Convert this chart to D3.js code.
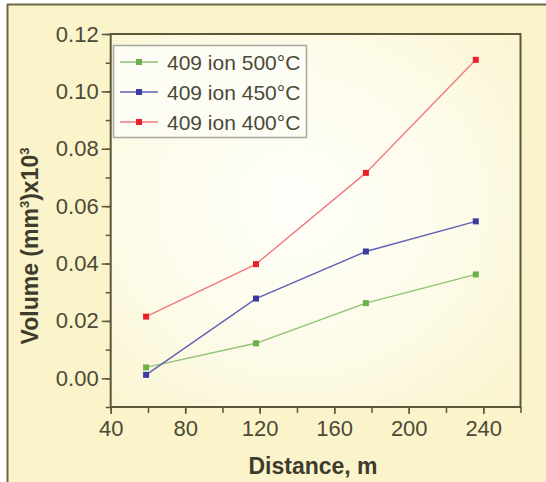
<!DOCTYPE html>
<html><head><meta charset="utf-8">
<script src="https://cdn.jsdelivr.net/npm/d3@7"></script>
<style>
html,body{margin:0;padding:0;background:#fff;}
svg{display:block;}
</style></head>
<body>
<svg id="chart" width="546" height="482"></svg>
<script>
const distances = [59, 118, 177, 236];
const series500 = [0.0038, 0.0122, 0.0262, 0.0362];
const series450 = [0.0012, 0.0278, 0.0442, 0.0547];
const series400 = [0.0215, 0.0398, 0.0716, 0.1110];
const seriesNames = ["409 ion 500°C", "409 ion 450°C", "409 ion 400°C"];
const xTickValues = [40, 80, 120, 160, 200, 240];
const yTickValues = [0.00, 0.02, 0.04, 0.06, 0.08, 0.10, 0.12];

const lineColors = ["#90c276", "#6060b4", "#f27a80"];
const markColors = ["#6cb04c", "#3a3aa0", "#e8202c"];

const svg = d3.select("#chart");
const defs = svg.append("defs");
const rg = defs.append("radialGradient").attr("id","plotbg").attr("cx","45%").attr("cy","45%").attr("r","70%");
rg.append("stop").attr("offset","0%").attr("stop-color","#fffffb");
rg.append("stop").attr("offset","60%").attr("stop-color","#fdfbe8");
rg.append("stop").attr("offset","100%").attr("stop-color","#fbf5d2");

// outer panel
svg.append("rect").attr("x",7).attr("y",4).attr("width",546).attr("height",490).attr("fill","#fbf4cb");
svg.append("line").attr("x1",7).attr("x2",546).attr("y1",4.5).attr("y2",4.5).attr("stroke","#6b6645").attr("stroke-width",2);
svg.append("line").attr("x1",7.5).attr("x2",7.5).attr("y1",4).attr("y2",482).attr("stroke","#6b6645").attr("stroke-width",2);

const L = 110.7, R = 520.5, T = 34, B = 407;
const x = d3.scaleLinear().domain([40, 260]).range([L, R]);
const y = d3.scaleLinear().domain([-0.01, 0.12]).range([B, T]);

svg.append("rect").attr("x",L).attr("y",T).attr("width",R-L).attr("height",B-T).attr("fill","url(#plotbg)");

const axisColor = "#5a5838";
const textColor = "#4b4a36";

// minor ticks
const yAxisMinor = d3.axisLeft(y).tickValues(d3.range(-0.01, 0.1201, 0.01)).tickSize(5).tickFormat("");
svg.append("g").attr("transform",`translate(${L},0)`).call(yAxisMinor)
  .call(g=>{g.select(".domain").remove(); g.selectAll("line").attr("stroke",axisColor).attr("stroke-width",1.5);});
const xAxisMinor = d3.axisBottom(x).tickValues(d3.range(40, 261, 20)).tickSize(6).tickFormat("");
svg.append("g").attr("transform",`translate(0,${B})`).call(xAxisMinor)
  .call(g=>{g.select(".domain").remove(); g.selectAll("line").attr("stroke",axisColor).attr("stroke-width",1.5);});

// major axes
const yAxis = d3.axisLeft(y).tickValues(yTickValues).tickSize(9).tickPadding(3).tickFormat(d3.format(".2f"));
svg.append("g").attr("transform",`translate(${L},0)`).call(yAxis)
  .call(g=>{g.select(".domain").remove();
    g.selectAll("line").attr("stroke",axisColor).attr("stroke-width",1.5);
    g.selectAll("text").attr("fill",textColor).attr("font-family","Liberation Sans, Arial, sans-serif").attr("font-size",22);});
const xAxis = d3.axisBottom(x).tickValues(xTickValues).tickSize(7).tickPadding(6).tickFormat(d3.format("d"));
svg.append("g").attr("transform",`translate(0,${B})`).call(xAxis)
  .call(g=>{g.select(".domain").remove();
    g.selectAll("line").attr("stroke",axisColor).attr("stroke-width",1.5);
    g.selectAll("text").attr("fill",textColor).attr("font-family","Liberation Sans, Arial, sans-serif").attr("font-size",22);});

// plot frame
svg.append("rect").attr("x",L).attr("y",T).attr("width",R-L).attr("height",B-T)
  .attr("fill","none").attr("stroke",axisColor).attr("stroke-width",2);

// series
const allSeries = [series500, series450, series400];
const line = d3.line().x((d,i)=>x(distances[i])).y(d=>y(d));
allSeries.forEach((s,k)=>{
  svg.append("path").datum(s).attr("d",line).attr("fill","none").attr("stroke",lineColors[k]).attr("stroke-width",1.4);
});
allSeries.forEach((s,k)=>{
  svg.append("g").selectAll("rect").data(s).join("rect")
    .attr("x",(d,i)=>x(distances[i])-3).attr("y",d=>y(d)-3).attr("width",6).attr("height",6)
    .attr("fill",markColors[k]);
});

// legend
const lg = svg.append("g");
lg.append("rect").attr("x",113.5).attr("y",45.5).attr("width",193).attr("height",92)
  .attr("fill","#fdfdf6").attr("stroke","#a8a79a").attr("stroke-width",1.5);
seriesNames.forEach((name,k)=>{
  const yy = 62 + k*30;
  lg.append("line").attr("x1",120).attr("x2",158).attr("y1",yy).attr("y2",yy).attr("stroke",lineColors[k]).attr("stroke-width",1.4);
  lg.append("rect").attr("x",139-3).attr("y",yy-3).attr("width",6).attr("height",6).attr("fill",markColors[k]);
  lg.append("text").attr("x",167).attr("y",yy).attr("dy","0.36em").text(name)
    .attr("fill",textColor).attr("font-family","Liberation Sans, Arial, sans-serif").attr("font-size",21);
});

// axis titles
svg.append("text").attr("x",313).attr("y",474).attr("text-anchor","middle")
  .attr("font-family","Liberation Sans, Arial, sans-serif").attr("font-weight","bold").attr("font-size",23)
  .attr("fill","#3e3c2c").text("Distance, m");

const yt = svg.append("text").attr("transform","translate(38,246) rotate(-90)").attr("text-anchor","middle")
  .attr("font-family","Liberation Sans, Arial, sans-serif").attr("font-weight","bold").attr("font-size",23)
  .attr("fill","#3e3c2c");
yt.append("tspan").text("Volume (mm");
yt.append("tspan").attr("font-size",13).attr("dy",-9).text("3");
yt.append("tspan").attr("dy",9).text(")x10");
yt.append("tspan").attr("font-size",13).attr("dy",-9).text("3");
</script>
</body></html>
